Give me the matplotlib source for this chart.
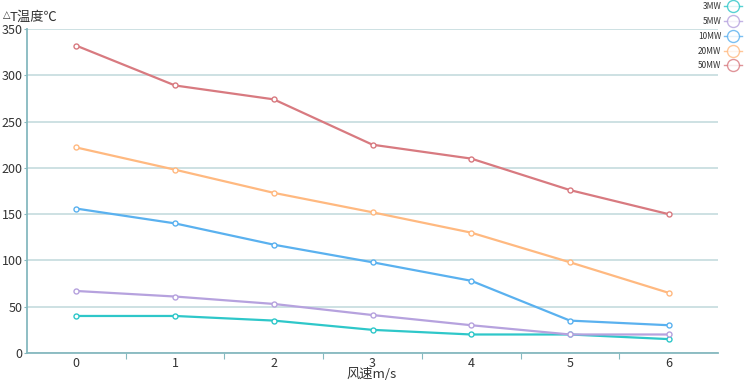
import matplotlib
matplotlib.use('Agg')
import matplotlib.pyplot as plt
from matplotlib import rcParams

rcParams['font.family'] = ['Noto Sans CJK SC', 'DejaVu Sans']

# data
wind = [0, 1, 2, 3, 4, 5, 6]
series_names = ['3MW', '5MW', '10MW', '20MW', '50MW']
t_3mw = [40, 40, 35, 25, 20, 20, 15]
t_5mw = [67, 61, 53, 41, 30, 20, 20]
t_10mw = [156, 140, 117, 98, 78, 35, 30]
t_20mw = [222, 198, 173, 152, 130, 98, 65]
t_50mw = [332, 289, 274, 225, 210, 176, 150]
y_ticks = [0, 50, 100, 150, 200, 250, 300, 350]

colors = ['#2ec7c9', '#b6a2de', '#5ab1ef', '#ffb980', '#d87a80']
axis_col = '#86b9bf'
grid_col = '#c5dcde'

fig = plt.figure(figsize=(7.48, 3.82), dpi=100)
ax = fig.add_axes([27 / 748, (382 - 353) / 382,
                   (718 - 27) / 748, (353 - 29) / 382])

for name, vals, c in zip(series_names,
                         [t_3mw, t_5mw, t_10mw, t_20mw, t_50mw], colors):
    ax.plot(wind, vals, color=c, lw=1.6, marker='o', ms=3.6,
            mfc='white', mec=c, mew=1.0, label=name, zorder=3)

ax.set_xlim(-0.5, 6.5)
ax.set_ylim(0, 350)
ax.set_yticks(y_ticks)
ax.yaxis.grid(True, color=grid_col, lw=1.2)
ax.set_axisbelow(True)

# category ticks between labels, labels centered
ax.set_xticks([i + 0.5 for i in wind[:-1]])
ax.set_xticklabels([])
ax.set_xticks(wind, minor=True)
ax.set_xticklabels([str(w) for w in wind], minor=True)
ax.tick_params(axis='x', which='major', length=4, color=axis_col)
ax.tick_params(axis='x', which='minor', length=0, pad=3,
               labelsize=9, labelcolor='#333333')
ax.tick_params(axis='y', length=2, color=axis_col, pad=1,
               labelsize=9, labelcolor='#333333')

for side in ['top', 'right']:
    ax.spines[side].set_visible(False)
for side in ['left', 'bottom']:
    ax.spines[side].set_color(axis_col)
    ax.spines[side].set_linewidth(1.3)

# small raised triangle, then the rest of the y label
fig.text(3 / 748, 1 - 15 / 382, '△', fontsize=7, color='#333333',
         va='center', ha='left', family='DejaVu Sans')
fig.text(10 / 748, 1 - 17 / 382, 'T温度℃', fontsize=9.5, color='#333333',
         va='center', ha='left')
fig.text(372 / 748, 1 - 374 / 382, '风速m/s', fontsize=9.5, color='#333333',
         va='center', ha='center')

leg = fig.legend(loc='upper right', bbox_to_anchor=(1.0, 1.01),
                 frameon=False, fontsize=6, markerfirst=False,
                 handlelength=2.2, labelspacing=0.7, handletextpad=0.3,
                 borderpad=0.2, markerscale=2.4)
for h in leg.legend_handles:
    h.set_linewidth(1.0)
    h.set_alpha(0.8)
for t in leg.get_texts():
    t.set_color('#333333')

fig.savefig('out.png', dpi=100)
